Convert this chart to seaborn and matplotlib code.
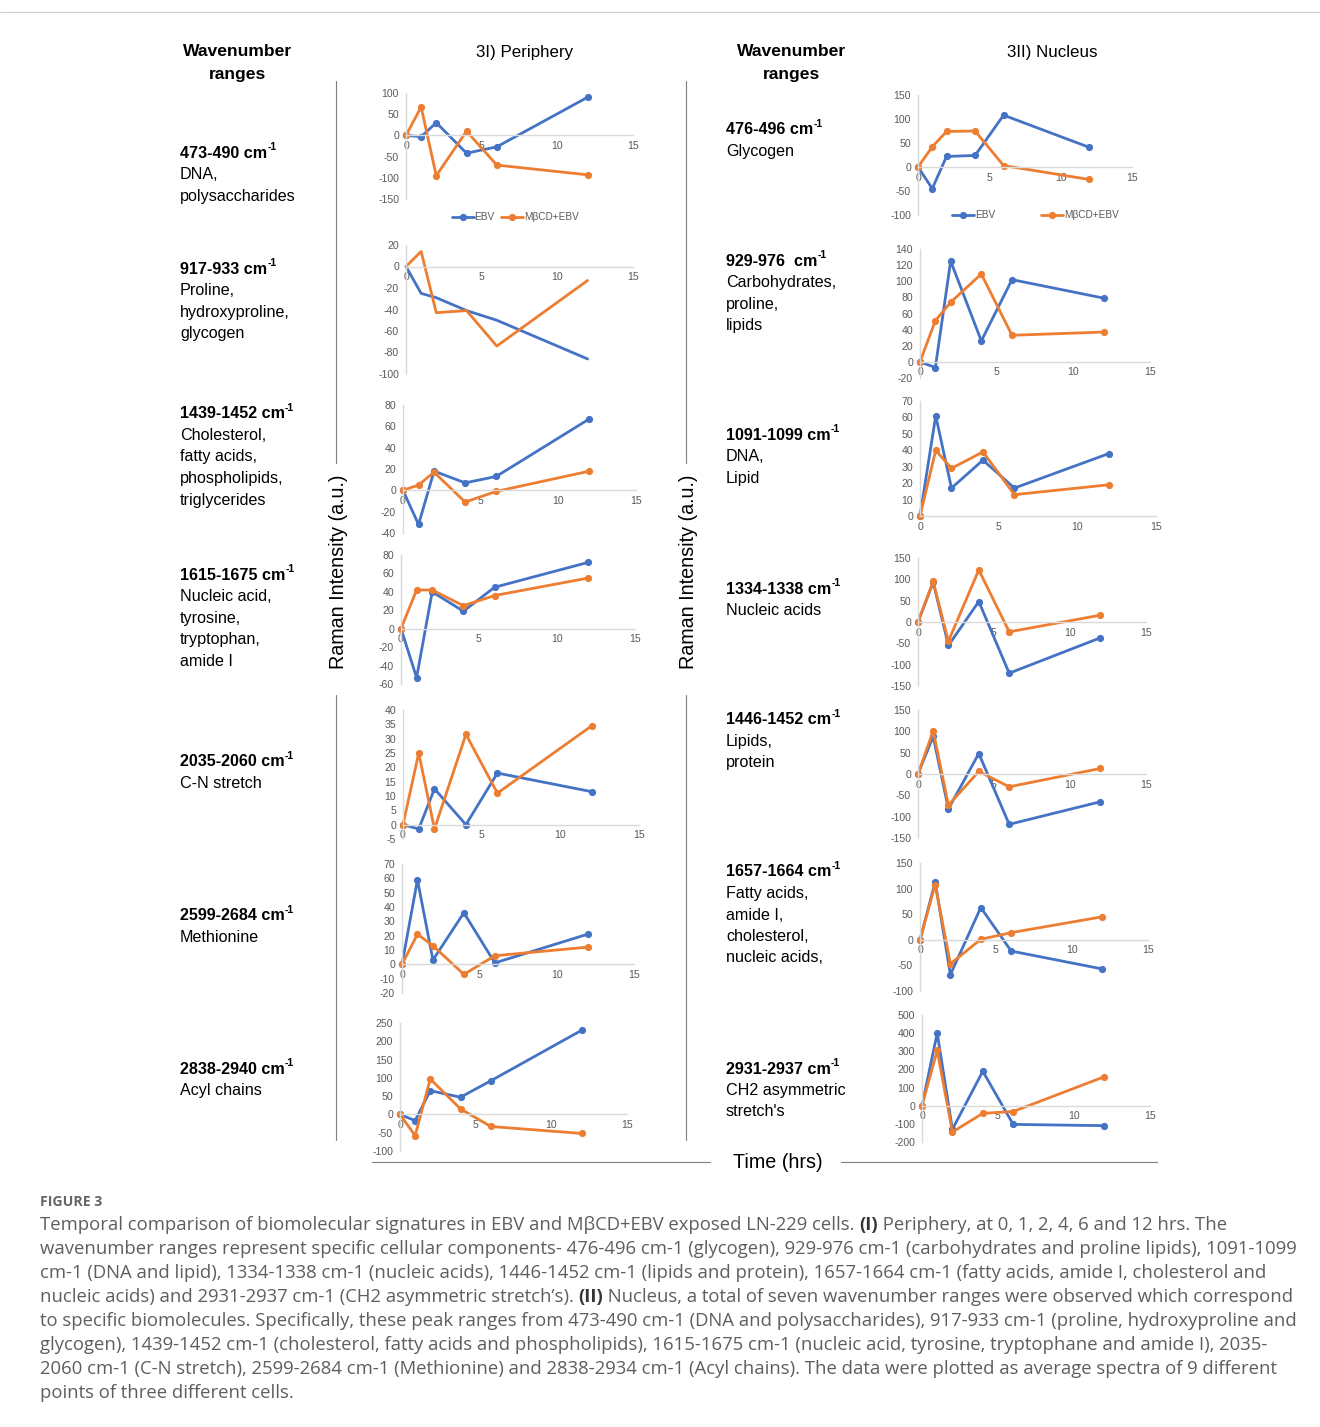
import matplotlib
matplotlib.use("Agg")
import matplotlib.pyplot as plt
from matplotlib.lines import Line2D
import seaborn as sns
import pandas as pd
import numpy as np

# ---------------- data ----------------
hours = [0, 1, 2, 4, 6, 12]
series_names = ["EBV", "MβCD+EBV"]

# 3I) Periphery
per_473_ebv = [0, -3, 30, -42, -27, 90]
per_473_mbcd = [0, 67, -95, 10, -70, -93]
per_917_ebv = [0, -25, -29, -41, -50, -86]
per_917_mbcd = [0, 14, -43, -41, -74, -13]
per_1439_ebv = [0, -32, 18, 7, 13, 67]
per_1439_mbcd = [0, 5, 17, -11, -1, 18]
per_1615_ebv = [0, -53, 40, 19, 45, 72]
per_1615_mbcd = [0, 42, 42, 25, 36, 55]
per_2035_ebv = [0, -1.5, 12.5, 0, 18, 11.5]
per_2035_mbcd = [0, 25, -1.5, 31.5, 11, 34.5]
per_2599_ebv = [0, 59, 3, 36, 1, 21]
per_2599_mbcd = [0, 21, 13, -7, 6, 12]
per_2838_ebv = [0, -17, 65, 47, 92, 230]
per_2838_mbcd = [0, -58, 97, 15, -33, -52]

# 3II) Nucleus
nuc_476_ebv = [0, -45, 22, 24, 108, 41]
nuc_476_mbcd = [0, 42, 74, 75, 3, -26]
nuc_929_ebv = [0, -7, 125, 26, 102, 79]
nuc_929_mbcd = [0, 51, 74, 109, 33, 37]
nuc_1091_ebv = [0, 61, 17, 34, 17, 38]
nuc_1091_mbcd = [0, 40, 29, 39, 13, 19]
nuc_1334_ebv = [0, 93, -55, 48, -120, -37]
nuc_1334_mbcd = [0, 95, -45, 122, -23, 16]
nuc_1446_ebv = [0, 88, -82, 48, -118, -65]
nuc_1446_mbcd = [0, 101, -73, 6, -30, 13]
nuc_1657_ebv = [0, 113, -68, 63, -22, -57]
nuc_1657_mbcd = [0, 108, -47, 1, 14, 45]
nuc_2931_ebv = [0, 400, -130, 190, -103, -110]
nuc_2931_mbcd = [0, 305, -145, -42, -32, 160]

# y-axis ranges (min, max, step)
per_yaxes = [(-150, 100, 50), (-100, 20, 20), (-40, 80, 20), (-60, 80, 20),
             (-5, 40, 5), (-20, 70, 10), (-100, 250, 50)]
nuc_yaxes = [(-100, 150, 50), (-20, 140, 20), (0, 70, 10), (-150, 150, 50),
             (-150, 150, 50), (-100, 150, 50), (-200, 500, 100)]

per_ranges = ["473-490", "917-933", "1439-1452", "1615-1675", "2035-2060",
              "2599-2684", "2838-2940"]
per_labels = [["DNA,", "polysaccharides"],
              ["Proline,", "hydroxyproline,", "glycogen"],
              ["Cholesterol,", "fatty acids,", "phospholipids,", "triglycerides"],
              ["Nucleic acid,", "tyrosine,", "tryptophan,", "amide I"],
              ["C-N stretch"],
              ["Methionine"],
              ["Acyl chains"]]
nuc_ranges = ["476-496", "929-976 ", "1091-1099", "1334-1338", "1446-1452",
              "1657-1664", "2931-2937"]
nuc_labels = [["Glycogen"],
              ["Carbohydrates,", "proline,", "lipids"],
              ["DNA,", "Lipid"],
              ["Nucleic acids"],
              ["Lipids,", "protein"],
              ["Fatty acids,", "amide I,", "cholesterol,", "nucleic acids,"],
              ["CH2 asymmetric", "stretch's"]]

per_series = [(per_473_ebv, per_473_mbcd), (per_917_ebv, per_917_mbcd),
              (per_1439_ebv, per_1439_mbcd), (per_1615_ebv, per_1615_mbcd),
              (per_2035_ebv, per_2035_mbcd), (per_2599_ebv, per_2599_mbcd),
              (per_2838_ebv, per_2838_mbcd)]
nuc_series = [(nuc_476_ebv, nuc_476_mbcd), (nuc_929_ebv, nuc_929_mbcd),
              (nuc_1091_ebv, nuc_1091_mbcd), (nuc_1334_ebv, nuc_1334_mbcd),
              (nuc_1446_ebv, nuc_1446_mbcd), (nuc_1657_ebv, nuc_1657_mbcd),
              (nuc_2931_ebv, nuc_2931_mbcd)]

caption_lines = [
    [("Temporal comparison of biomolecular signatures in EBV and MβCD+EBV exposed LN-229 cells. ", "normal"),
     ("(I)", "bold"), (" Periphery, at 0, 1, 2, 4, 6 and 12 hrs. The", "normal")],
    [("wavenumber ranges represent specific cellular components- 476-496 cm-1 (glycogen), 929-976 cm-1 (carbohydrates and proline lipids), 1091-1099", "normal")],
    [("cm-1 (DNA and lipid), 1334-1338 cm-1 (nucleic acids), 1446-1452 cm-1 (lipids and protein), 1657-1664 cm-1 (fatty acids, amide I, cholesterol and", "normal")],
    [("nucleic acids) and 2931-2937 cm-1 (CH2 asymmetric stretch\u2019s). ", "normal"), ("(II)", "bold"),
     (" Nucleus, a total of seven wavenumber ranges were observed which correspond", "normal")],
    [("to specific biomolecules. Specifically, these peak ranges from 473-490 cm-1 (DNA and polysaccharides), 917-933 cm-1 (proline, hydroxyproline and", "normal")],
    [("glycogen), 1439-1452 cm-1 (cholesterol, fatty acids and phospholipids), 1615-1675 cm-1 (nucleic acid, tyrosine, tryptophane and amide I), 2035-", "normal")],
    [("2060 cm-1 (C-N stretch), 2599-2684 cm-1 (Methionine) and 2838-2934 cm-1 (Acyl chains). The data were plotted as average spectra of 9 different", "normal")],
    [("points of three different cells.", "normal")],
]

# ---------------- style ----------------
sns.set_style("white")
plt.rcParams["font.family"] = ["Liberation Sans", "DejaVu Sans"]
plt.rcParams["axes.unicode_minus"] = False

W, H = 1320, 1427
BLUE, ORANGE = "#4472C4", "#ED7D31"
TICK_C = "#595959"
AX_C = "#d9d9d9"
palette = {"EBV": BLUE, "MβCD+EBV": ORANGE}

fig = plt.figure(figsize=(W / 100, H / 100), dpi=100)
fig.patch.set_facecolor("white")

# overlay in pixel coordinates for frame lines and labels
ov = fig.add_axes([0, 0, 1, 1])
ov.set_xlim(0, W)
ov.set_ylim(H, 0)
ov.axis("off")


def px_axes(x0, x1, ytop, ybot):
    return fig.add_axes([x0 / W, 1 - ybot / H, (x1 - x0) / W, (ybot - ytop) / H])


per_boxes = [(406, 633, 93, 199), (406, 633, 245, 374), (403, 636, 405, 533),
             (401, 635, 555, 684), (403, 639, 710, 839), (402, 634, 864, 993),
             (400, 627, 1023, 1151)]
nuc_boxes = [(918, 1132, 95, 215), (920, 1150, 249, 378), (920, 1156, 401, 516),
             (918, 1146, 558, 686), (918, 1146, 710, 838), (920, 1148, 863, 991),
             (922, 1150, 1015, 1142)]


def draw_panel(box, series, yax, markers=True, legend=None):
    ax = px_axes(*box)
    ebv, mbcd = series
    df = pd.DataFrame({
        "hours": hours * 2,
        "value": list(ebv) + list(mbcd),
        "series": [series_names[0]] * len(hours) + [series_names[1]] * len(hours),
    })
    sns.lineplot(data=df, x="hours", y="value", hue="series", palette=palette,
                 marker="o" if markers else None, markersize=5.2,
                 markeredgewidth=0, linewidth=2.0, sort=False,
                 legend=legend is not None, ax=ax)
    for ln in ax.lines:
        ln.set_clip_on(False)
    ymin, ymax, step = yax
    ax.set_xlim(0, 15)
    ax.set_ylim(ymin, ymax)
    ax.set_xticks([0, 5, 10, 15])
    ax.set_yticks(np.arange(ymin, ymax + step / 2, step))
    ax.set_xlabel("")
    ax.set_ylabel("")
    ax.patch.set_alpha(0)
    for s in ("top", "right"):
        ax.spines[s].set_visible(False)
    ax.spines["left"].set_color(AX_C)
    ax.spines["left"].set_linewidth(1)
    ax.spines["bottom"].set_position(("data", 0))
    ax.spines["bottom"].set_color(AX_C)
    ax.spines["bottom"].set_linewidth(1)
    ax.tick_params(axis="both", length=0, labelsize=7.6, labelcolor=TICK_C)
    ax.tick_params(axis="y", pad=5)
    ax.tick_params(axis="x", pad=4)
    if legend is not None:
        anchor, colsp = legend
        sns.move_legend(ax, loc="center", bbox_to_anchor=anchor, ncol=2,
                        frameon=False, title=None, fontsize=7.2,
                        handlelength=2.2, handletextpad=0.1,
                        columnspacing=colsp)
        for t in ax.get_legend().get_texts():
            t.set_color(TICK_C)
    return ax


for i, (box, ser, yax) in enumerate(zip(per_boxes, per_series, per_yaxes)):
    leg = ((0.48, -0.17), 0.6) if i == 0 else None
    draw_panel(box, ser, yax, markers=(i != 1), legend=leg)

for i, (box, ser, yax) in enumerate(zip(nuc_boxes, nuc_series, nuc_yaxes)):
    leg = ((0.55, 0.0), 4.6) if i == 0 else None
    draw_panel(box, ser, yax, legend=leg)

renderer = fig.canvas.get_renderer()
TXT = "#000000"
LAB_FS = 11.6


def range_label(x, y, rng):
    t = ov.text(x, y, rng + " cm", fontsize=LAB_FS, fontweight="bold",
                color=TXT, ha="left", va="center")
    bb = t.get_window_extent(renderer)
    ov.text(x + bb.width, y - 6, "-1", fontsize=7.6, fontweight="bold",
            color=TXT, ha="left", va="center")


per_label_y = [153, 269, 414, 575, 762, 916, 1069]
nuc_label_y = [130, 261, 435, 589, 720, 872, 1069]
for rng, lines, y in zip(per_ranges, per_labels, per_label_y):
    range_label(180, y, rng)
    for k, ln in enumerate(lines):
        ov.text(180, y + 21.5 * (k + 1), ln, fontsize=LAB_FS, color=TXT,
                ha="left", va="center")
for rng, lines, y in zip(nuc_ranges, nuc_labels, nuc_label_y):
    range_label(726, y, rng)
    for k, ln in enumerate(lines):
        ov.text(726, y + 21.5 * (k + 1), ln, fontsize=LAB_FS, color=TXT,
                ha="left", va="center")

# column headers
for x in (238, 792):
    ov.text(x, 52, "Wavenumber", fontsize=12.6, fontweight="bold",
            ha="center", va="center", color=TXT)
    ov.text(x, 74, "ranges", fontsize=12.6, fontweight="bold",
            ha="center", va="center", color=TXT)
ov.text(525, 52, "3I) Periphery", fontsize=12.2, ha="center", va="center", color=TXT)
ov.text(1052, 52, "3II) Nucleus", fontsize=12.2, ha="center", va="center", color=TXT)

# frame lines and shared axis titles
FR = "#7f7f7f"
ov.add_line(Line2D([0, W], [12, 12], color="#cccccc", lw=0.8))
for x in (336, 686):
    ov.add_line(Line2D([x, x], [81, 463], color=FR, lw=0.8))
    ov.add_line(Line2D([x, x], [695, 1140], color=FR, lw=0.8))
ov.text(338, 572, "Raman Intensity (a.u.)", rotation=90, fontsize=14.2,
        ha="center", va="center", color=TXT)
ov.text(688, 572, "Raman Intensity (a.u.)", rotation=90, fontsize=14.2,
        ha="center", va="center", color=TXT)
ov.add_line(Line2D([372, 710], [1162, 1162], color=FR, lw=0.8))
ov.add_line(Line2D([841, 1157], [1162, 1162], color=FR, lw=0.8))
ov.text(778, 1162, "Time (hrs)", fontsize=14.2, ha="center", va="center", color=TXT)

# caption
CAP_C = "#5e5e5e"
ov.text(40, 1202, "FIGURE 3", fontsize=10.2, fontweight="bold", color="#666666",
        family=["Open Sans", "DejaVu Sans"], ha="left", va="center")
for k, pieces in enumerate(caption_lines):
    x = 40
    y = 1225 + 24 * k
    for s, wt in pieces:
        t = ov.text(x, y, s, fontsize=13.3, fontweight=wt,
                    color="#333333" if wt == "bold" else CAP_C,
                    family=["Open Sans", "DejaVu Sans"], ha="left", va="center")
        x += t.get_window_extent(renderer).width

fig.savefig("out.png", dpi=100, facecolor="white")
